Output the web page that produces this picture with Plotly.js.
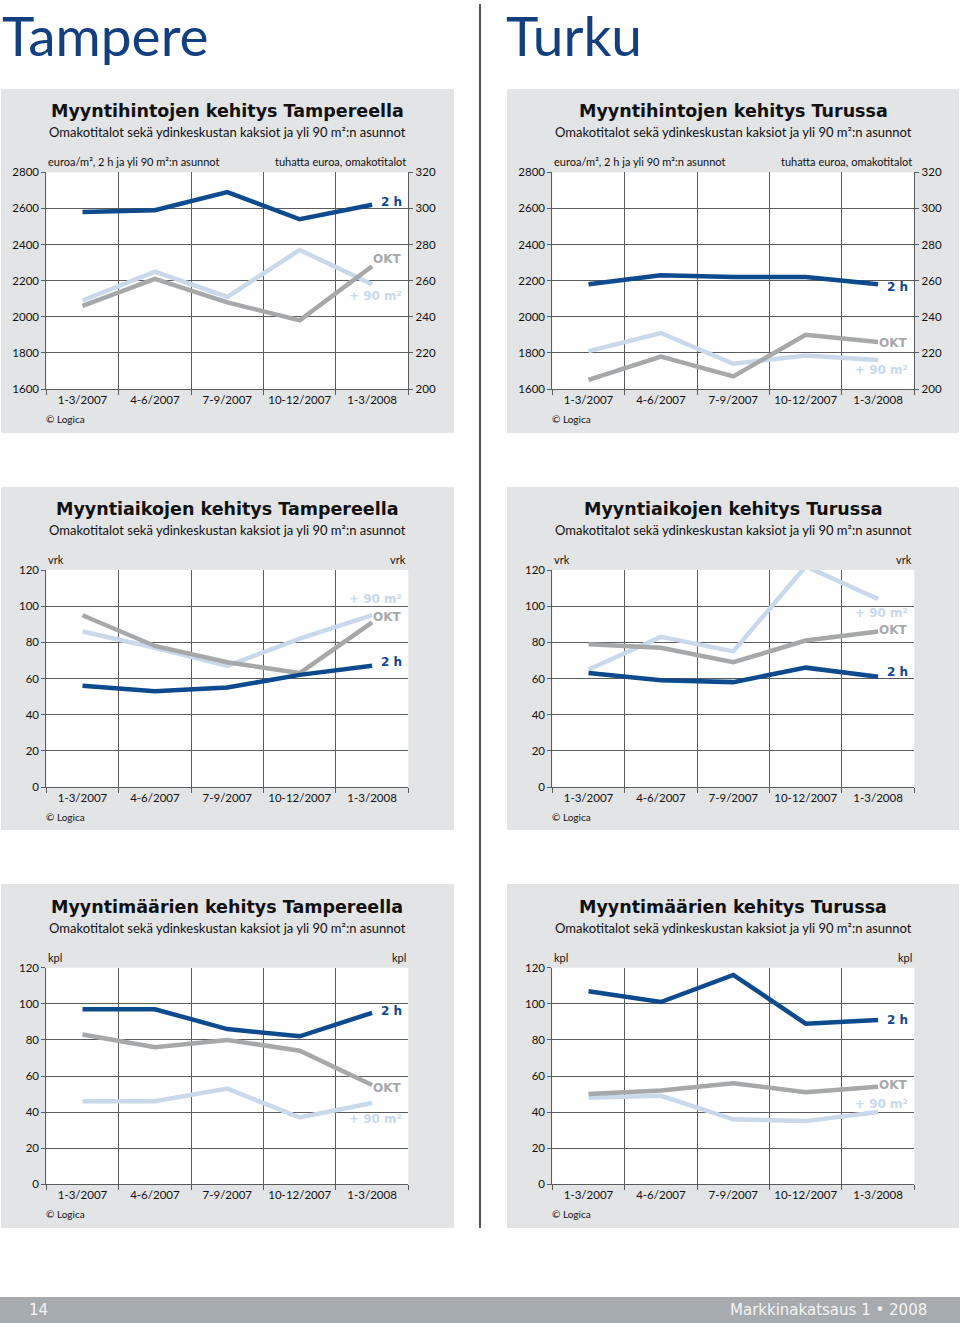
<!DOCTYPE html>
<html><head><meta charset="utf-8">
<script src="https://cdn.plot.ly/plotly-3.0.1.min.js"></script>
<style>html,body{margin:0;padding:0;background:#fff;} #chart{width:960px;height:1327px;}</style>
</head><body><div id="chart"></div>
<script>
// ---------- data ----------
const periods = ['1-3/2007', '4-6/2007', '7-9/2007', '10-12/2007', '1-3/2008'];

// Myyntihinnat: 2 h ja +90 m2 (euroa/m2), OKT (tuhatta euroa)
const tamperePrice2h  = [2580, 2590, 2690, 2540, 2620];
const tamperePrice90  = [2090, 2250, 2110, 2370, 2180];
const tamperePriceOKT = [246, 261, 248, 238, 268];
const turkuPrice2h    = [2180, 2230, 2220, 2220, 2180];
const turkuPrice90    = [1810, 1910, 1740, 1785, 1760];
const turkuPriceOKT   = [205, 218, 207, 230, 226];

// Myyntiajat (vrk)
const tampereTime2h  = [56, 53, 55, 62, 67];
const tampereTime90  = [86, 77, 67, 82, 95];
const tampereTimeOKT = [95, 78, 69, 63, 91];
const turkuTime2h    = [63, 59, 58, 66, 61];
const turkuTime90    = [65, 83, 75, 122, 104];
const turkuTimeOKT   = [79, 77, 69, 81, 86];

// Myyntimäärät (kpl)
const tampereCount2h  = [97, 97, 86, 82, 95];
const tampereCountOKT = [83, 76, 80, 74, 55];
const tampereCount90  = [46, 46, 53, 37, 45];
const turkuCount2h    = [107, 101, 116, 89, 91];
const turkuCountOKT   = [50, 52, 56, 51, 54];
const turkuCount90    = [48, 49, 36, 35, 40];

const priceLeftRange  = [1600, 2800];
const priceRightRange = [200, 320];
const countRange      = [0, 120];

const seriesNames = {h2: '2 h', okt: 'OKT', m90: '+ 90 m²'};

const cityTitles = ['Tampere', 'Turku'];
const chartTitles = [
  'Myyntihintojen kehitys Tampereella', 'Myyntihintojen kehitys Turussa',
  'Myyntiaikojen kehitys Tampereella', 'Myyntiaikojen kehitys Turussa',
  'Myyntimäärien kehitys Tampereella', 'Myyntimäärien kehitys Turussa'
];
const subTitle = 'Omakotitalot sekä ydinkeskustan kaksiot ja yli 90 m²:n asunnot';
const unitLeft  = ['euroa/m², 2 h ja yli 90 m²:n asunnot', 'vrk', 'kpl'];
const unitRight = ['tuhatta euroa, omakotitalot', 'vrk', 'kpl'];
const footerLeft = '14';
const footerRight = 'Markkinakatsaus 1 • 2008';
const sourceText = '© Logica';

// ---------- styling / geometry ----------
const W = 960, H = 1327;
const C2H = '#0e4a8e', COKT = '#a7a8aa', C90 = '#c7d9eb';
const GRID = '#5a5b5d';
const PANEL = '#e3e4e6';
const TF = 'Lato';
const HF = 'DejaVu Sans';

const colPanel = [[1, 454], [507, 959]];
const colPlot  = [[46.3, 408.3], [552.3, 914.3]];
const rowPanel = [[89, 433], [487, 830], [884, 1228]];
const rowPlot  = [[172.3, 389], [570, 787], [967.7, 1184.3]];

// label y-centres (page px) per chart: [2h, OKT, +90]
const labelY = [
  [201.7, 259.3, 295.7], [287.3, 343.3, 370],
  [661.7, 617, 599.3],   [671.7, 630, 612.7],
  [1010.7, 1088.3, 1118.7], [1020, 1085.3, 1104]
];

const px = x => x / W;
const py = y => 1 - y / H;

const charts = [
  {h2: tamperePrice2h, m90: tamperePrice90, okt: tamperePriceOKT, price: true},
  {h2: turkuPrice2h, m90: turkuPrice90, okt: turkuPriceOKT, price: true},
  {h2: tampereTime2h, m90: tampereTime90, okt: tampereTimeOKT},
  {h2: turkuTime2h, m90: turkuTime90, okt: turkuTimeOKT},
  {h2: tampereCount2h, m90: tampereCount90, okt: tampereCountOKT},
  {h2: turkuCount2h, m90: turkuCount90, okt: turkuCountOKT}
];

const traces = [];
const shapes = [];
const annotations = [];
const layout = {
  width: W, height: H,
  margin: {l: 0, r: 0, t: 0, b: 0},
  paper_bgcolor: '#ffffff',
  plot_bgcolor: '#ffffff',
  showlegend: false,
  font: {family: TF, color: '#111'},
  shapes: shapes,
  annotations: annotations
};

// panels
charts.forEach((c, k) => {
  const col = k % 2, row = Math.floor(k / 2);
  shapes.push({type: 'rect', xref: 'paper', yref: 'paper', layer: 'below',
    x0: px(colPanel[col][0]), x1: px(colPanel[col][1]),
    y0: py(rowPanel[row][1]), y1: py(rowPanel[row][0]),
    fillcolor: PANEL, line: {width: 0}});
});

charts.forEach((c, k) => {
  const col = k % 2, row = Math.floor(k / 2);
  const n = k + 1;
  const xid = n === 1 ? 'x' : 'x' + n;
  const ly = 2 * k + 1, ry = 2 * k + 2;
  const lyid = ly === 1 ? 'y' : 'y' + ly;
  const ryid = 'y' + ry;
  const [X0, X1] = colPlot[col];
  const [Y0, Y1] = rowPlot[row];
  const tickfont = {family: TF, size: 11.5, color: '#111'};
  const leftRange = c.price ? priceLeftRange : countRange;
  const rightRange = c.price ? priceRightRange : countRange;

  layout['xaxis' + (n === 1 ? '' : n)] = {
    domain: [px(X0), px(X1)], anchor: lyid, type: 'category',
    range: [-0.5, 4.5], tickson: 'boundaries', ticks: 'outside', ticklen: 5,
    tickcolor: GRID, showgrid: true, gridcolor: GRID, gridwidth: 1,
    showline: true, linecolor: GRID, linewidth: 1, tickfont: tickfont, fixedrange: true
  };
  layout['yaxis' + (ly === 1 ? '' : ly)] = {
    domain: [py(Y1), py(Y0)], anchor: xid, range: leftRange,
    dtick: c.price ? 200 : 20, ticks: 'outside', ticklen: 4, tickcolor: GRID,
    showgrid: true, gridcolor: GRID, gridwidth: 1, showline: true, linecolor: GRID,
    zeroline: false, tickfont: tickfont, fixedrange: true
  };
  layout['yaxis' + ry] = {
    overlaying: lyid, side: 'right', anchor: xid, range: rightRange,
    dtick: 20, ticks: 'outside', ticklen: 4, tickcolor: GRID,
    showgrid: false, showline: true, linecolor: GRID,
    zeroline: false, tickfont: tickfont, fixedrange: true
  };

  // white plotting area
  shapes.push({type: 'rect', xref: xid + ' domain', yref: lyid + ' domain', layer: 'below',
    x0: 0, x1: 1, y0: 0, y1: 1, fillcolor: '#ffffff', line: {width: 0}});

  const common = {x: periods, mode: 'lines', hoverinfo: 'skip', showlegend: false, xaxis: xid};
  traces.push(Object.assign({}, common, {y: c.m90, yaxis: lyid, name: seriesNames.m90,
    line: {color: C90, width: 4.5}}));
  traces.push(Object.assign({}, common, {y: c.okt, yaxis: c.price ? ryid : lyid, name: seriesNames.okt,
    line: {color: COKT, width: 4.5}}));
  traces.push(Object.assign({}, common, {y: c.h2, yaxis: lyid, name: seriesNames.h2,
    line: {color: C2H, width: 4.5}}));

  const cx = (X0 + X1) / 2;
  // titles
  annotations.push({xref: 'paper', yref: 'paper', x: px(cx), y: py(Y0 - 61), xanchor: 'center', yanchor: 'middle',
    text: chartTitles[k], showarrow: false, font: {family: HF, size: 17.5, weight: 'bold', color: '#111'}});
  annotations.push({xref: 'paper', yref: 'paper', x: px(cx), y: py(Y0 - 40), xanchor: 'center', yanchor: 'middle',
    text: subTitle, showarrow: false, font: {family: TF, size: 13, color: '#111'}});
  annotations.push({xref: 'paper', yref: 'paper', x: px(X0), y: py(Y0 - 10.5), xanchor: 'left', yanchor: 'middle',
    text: unitLeft[row], showarrow: false, font: {family: TF, size: 11, color: '#111'}});
  annotations.push({xref: 'paper', yref: 'paper', x: px(X1), y: py(Y0 - 10.5), xanchor: 'right', yanchor: 'middle',
    text: unitRight[row], showarrow: false, font: {family: TF, size: 11, color: '#111'}});
  annotations.push({xref: 'paper', yref: 'paper', x: px(X0 - 2), y: py(Y1 + 30), xanchor: 'left', yanchor: 'middle',
    text: sourceText, showarrow: false, font: {family: TF, size: 10, color: '#111'}});

  // series labels
  const labs = [[seriesNames.h2, C2H], [seriesNames.okt, COKT], [seriesNames.m90, C90]];
  labs.forEach((l, i) => {
    annotations.push({xref: 'paper', yref: 'paper', x: px(X1 - 4), y: py(labelY[k][i]), xanchor: 'right', yanchor: 'middle',
      text: l[0], showarrow: false, font: {family: HF, size: 12, weight: 'bold', color: l[1]}});
  });
});

// city headers
annotations.push({xref: 'paper', yref: 'paper', x: px(0), y: py(35), xanchor: 'left', yanchor: 'middle',
  text: cityTitles[0], showarrow: false, font: {family: TF, size: 55, color: '#143f7e'}});
annotations.push({xref: 'paper', yref: 'paper', x: px(504), y: py(35), xanchor: 'left', yanchor: 'middle',
  text: cityTitles[1], showarrow: false, font: {family: TF, size: 55, color: '#143f7e'}});

// separator and footer
shapes.push({type: 'line', xref: 'paper', yref: 'paper', x0: px(480), x1: px(480), y0: py(4), y1: py(1228),
  line: {color: '#4f5052', width: 2}});
shapes.push({type: 'rect', xref: 'paper', yref: 'paper', x0: 0, x1: 1, y0: py(1323), y1: py(1297),
  fillcolor: '#a6abb0', line: {width: 0}});
annotations.push({xref: 'paper', yref: 'paper', x: px(27), y: py(1310), xanchor: 'left', yanchor: 'middle',
  text: footerLeft, showarrow: false, font: {family: HF, size: 15, color: '#f4f4f4'}});
annotations.push({xref: 'paper', yref: 'paper', x: px(929), y: py(1310), xanchor: 'right', yanchor: 'middle',
  text: footerRight, showarrow: false, font: {family: HF, size: 15, color: '#f4f4f4'}});

Plotly.newPlot('chart', traces, layout, {staticPlot: true, displayModeBar: false});
</script>
</body></html>
